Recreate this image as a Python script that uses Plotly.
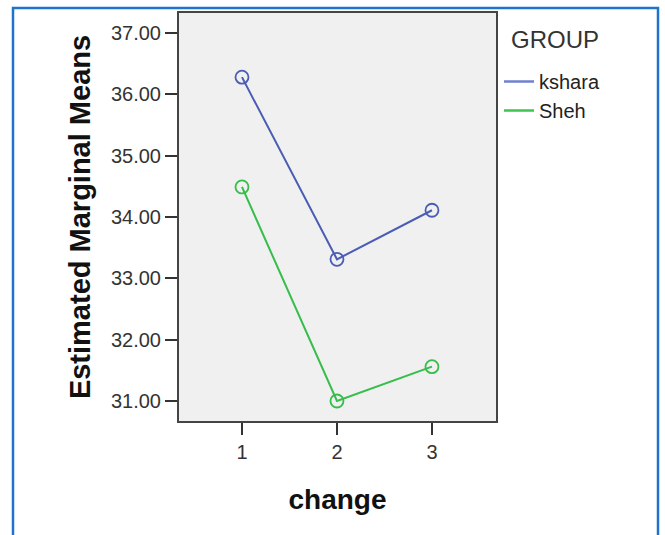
import plotly.graph_objects as go

change = [1, 2, 3]
groups = ["kshara", "Sheh"]
kshara_means = [36.28, 33.31, 34.11]
sheh_means = [34.49, 31.00, 31.56]
y_ticks = [31, 32, 33, 34, 35, 36, 37]
y_tick_labels = ["31.00", "32.00", "33.00", "34.00", "35.00", "36.00", "37.00"]

colors = {"kshara": "#4a5cb4", "Sheh": "#36bd4a"}
legend_colors = {"kshara": "#6f80cc", "Sheh": "#3fc452"}
series = {"kshara": kshara_means, "Sheh": sheh_means}

FONT = "Arial, Liberation Sans, sans-serif"

fig = go.Figure()
for g in groups:
    fig.add_trace(go.Scatter(
        x=change, y=series[g], mode="lines+markers", name=g, showlegend=False,
        line=dict(color=colors[g], width=2),
        marker=dict(symbol="circle-open", size=13, color=colors[g], line=dict(width=1.8)),
    ))
for g in groups:
    fig.add_trace(go.Scatter(
        x=[None], y=[None], mode="lines", name=g, showlegend=True,
        line=dict(color=legend_colors[g], width=2.5),
    ))

PW, PH, L, T = 317, 408, 179, 13

fig.update_layout(
    width=665, height=535,
    margin=dict(l=L, r=665 - L - PW, t=T, b=535 - T - PH),
    paper_bgcolor="white",
    plot_bgcolor="#f0f0f0",
    font=dict(family=FONT, color="#333333"),
    showlegend=True,
    legend=dict(
        x=(499 - L) / PW, xanchor="left", y=(T + PH - 62) / PH, yanchor="top",
        font=dict(size=20, color="#222222"),
        bgcolor="rgba(0,0,0,0)",
        itemwidth=30, tracegroupgap=0,
    ),
    annotations=[dict(
        text="GROUP", xref="paper", yref="paper",
        x=(509 - L) / PW, xanchor="left", y=(T + PH - 40) / PH, yanchor="middle",
        showarrow=False, font=dict(size=24, color="#333333"),
    )],
    xaxis=dict(
        range=[0.337, 3.674], tickvals=change, ticktext=[str(c) for c in change],
        ticks="outside", ticklen=12, tickwidth=2, tickcolor="#333333",
        showline=True, linecolor="#444444", linewidth=2, mirror=True,
        showgrid=False, zeroline=False,
        tickfont=dict(size=20, color="#333333"),
        title=dict(text="<b>change</b>", font=dict(size=28, color="#111111"), standoff=27),
    ),
    yaxis=dict(
        range=[30.674, 37.326], tickvals=y_ticks, ticktext=y_tick_labels,
        ticks="outside", ticklen=12, tickwidth=2, tickcolor="#333333",
        showline=True, linecolor="#444444", linewidth=2, mirror=True,
        showgrid=False, zeroline=False,
        tickfont=dict(size=20, color="#333333"),
        title=dict(text="<b>Estimated Marginal Means</b>", font=dict(size=29, color="#111111"), standoff=12),
    ),
    shapes=[dict(
        type="rect", xref="paper", yref="paper",
        x0=(13 - L) / PW, x1=(658 - L) / PW,
        y0=-0.6, y1=(T + PH - 8) / PH,
        line=dict(color="#1f74c9", width=2.5), fillcolor="rgba(0,0,0,0)", layer="below",
    )],
)

fig.write_html("out.html")
